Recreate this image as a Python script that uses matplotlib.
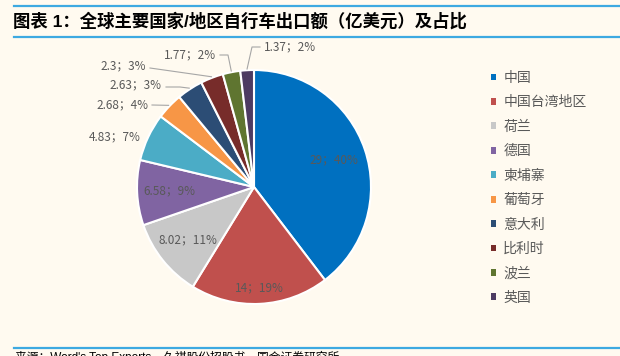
import numpy as np
import matplotlib
matplotlib.use("Agg")
import matplotlib.pyplot as plt
from matplotlib.lines import Line2D
from matplotlib.patches import Patch

# data (亿美元)
countries = ["中国", "中国台湾地区", "荷兰", "德国", "柬埔寨",
             "葡萄牙", "意大利", "比利时", "波兰", "英国"]
values = [29, 14, 8.02, 6.58, 4.83, 2.68, 2.63, 2.3, 1.77, 1.37]
value_text = ["29", "14", "8.02", "6.58", "4.83", "2.68", "2.63", "2.3", "1.77", "1.37"]
pct_text = ["40%", "19%", "11%", "9%", "7%", "4%", "3%", "3%", "2%", "2%"]

colors = ["#0070C0", "#C0504D", "#C8C8C8", "#8064A2", "#4BACC6",
          "#F79646", "#2C4D75", "#772C2A", "#5F7530", "#4D3B62"]

W, H = 620, 356
BG = "#FFFAF0"
LINE_BLUE = "#3DA9E1"
TXT = "#595959"
CJK = ["Noto Sans CJK SC", "DejaVu Sans"]
plt.rcParams["font.family"] = CJK


def fx(px):
    return px / W


def fy(py):
    return 1 - py / H


fig = plt.figure(figsize=(W / 100, H / 100), dpi=100, facecolor=BG)

# header / footer rules
for y in (6, 37, 348):
    fig.add_artist(Line2D([fx(14), 1], [fy(y), fy(y)], transform=fig.transFigure,
                          color=LINE_BLUE, lw=1.6))

fig.text(fx(13), fy(21), "图表 1：全球主要国家/地区自行车出口额（亿美元）及占比",
         fontsize=12.5, fontweight="bold", va="center", color="black",
         family=["Liberation Sans", "Noto Sans CJK SC"])

fig.text(fx(15), fy(351), "来源：Word's Top Exports、久祺股份招股书，国金证券研究所",
         fontsize=8.5, va="top", color="black",
         family=["Liberation Sans", "Noto Sans CJK SC"])

# pie: centre (254,187) px, radius 117 px
R = 117
ax = fig.add_axes([fx(254 - R), fy(187 + R), 2 * R / W, 2 * R / H])
ax.set_facecolor(BG)
wedges, _ = ax.pie(values, colors=colors, startangle=90, counterclock=False,
                   radius=1, wedgeprops=dict(edgecolor="white", linewidth=1.5))
ax.set_xlim(-1, 1)
ax.set_ylim(-1, 1)
ax.axis("off")

labels = [f"{v}；{p}" for v, p in zip(value_text, pct_text)]

# inside labels: radius along the wedge bisector
inside_r = [0.72, 0.86, 0.72, 0.72]
for i, r in enumerate(inside_r):
    w = wedges[i]
    t = np.deg2rad((w.theta1 + w.theta2) / 2)
    ax.text(r * np.cos(t), r * np.sin(t), labels[i], ha="center", va="center",
            fontsize=8.5, color=TXT)


def px2d(px, py):
    return (px - 254) / R, (187 - py) / R


# outside labels: text centre, leader path (start, optional elbow) in pixels
outside = {
    4: ((115, 137), []),
    5: ((122, 105), [(152, 105)]),
    6: ((135, 85), [(166, 87), (180, 87)]),
    7: ((123, 66), [(150, 68)]),
    8: ((190, 55), [(220, 55), (228, 55)]),
    9: ((290, 47), [(260, 47), (252, 47)]),
}
for i, (pos, path) in outside.items():
    x, y = px2d(*pos)
    ax.text(x, y, labels[i], ha="center", va="center", fontsize=8.5,
            color=TXT, clip_on=False)
    if path:
        w = wedges[i]
        t = np.deg2rad((w.theta1 + w.theta2) / 2)
        pts = [px2d(*p) for p in path] + [(1.01 * np.cos(t), 1.01 * np.sin(t))]
        xs, ys = zip(*pts)
        ax.plot(xs, ys, color="#A6A6A6", lw=0.8, clip_on=False)

# legend
handles = [Patch(facecolor=c, edgecolor="none") for c in colors]
fig.legend(handles, countries, loc="upper left",
           bbox_to_anchor=(fx(491), fy(71)), frameon=False,
           fontsize=10, labelcolor=TXT, handlelength=0.38, handleheight=0.38,
           handletextpad=0.5, labelspacing=0.75, borderpad=0, borderaxespad=0)

fig.savefig("out.png", dpi=100, facecolor=BG)
